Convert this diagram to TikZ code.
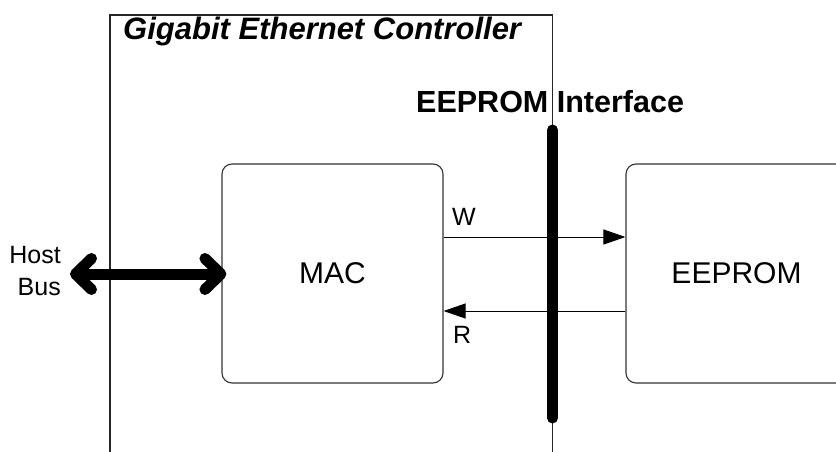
\documentclass[tikz,border=0pt]{standalone}
\usepackage{fontspec}
\setmainfont{Liberation Sans}
\usetikzlibrary{arrows.meta}
\begin{document}
\begin{tikzpicture}[x=1pt,y=-1pt,
  frame/.style={line width=1.2pt,draw=black!85},
  block/.style={draw=black!80,line width=1.1pt,rounded corners=10pt,minimum width=221pt,minimum height=219pt,inner sep=0pt,font=\fontsize{30}{32}\selectfont},
  sig/.style={line width=1pt,-{Triangle[length=22pt,width=15pt]}},
  bus/.style={line width=11pt,{Straight Barb[length=16pt,width=31pt,round]}-{Straight Barb[length=16pt,width=31pt,round]}},
  lbl/.style={inner sep=0pt,font=\fontsize{25}{32}\selectfont},
  heading/.style={inner sep=0pt,font=\fontsize{30.5}{32}\selectfont\bfseries}]
\useasboundingbox (0,0) rectangle (836,452);
\clip (0,0) rectangle (836,452);
\fill[white] (0,0) rectangle (836,452);
% controller frame
\coordinate (fbl) at (110,452);
\coordinate (ftl) at (110,15);
\coordinate (ftr) at (552.5,15);
\coordinate (fbr) at (552.5,452);
\draw[frame] (fbl) -- (ftl) -- (ftr) -- (fbr);
\node[heading,font=\fontsize{31}{32}\selectfont\bfseries\itshape,anchor=base west] (title) at (123,40) {Gigabit Ethernet Controller};
\node[heading,anchor=base west] (ifc) at (416,113) {EEPROM Interface};
% interface bar
\coordinate (bartop) at (552.5,130);
\coordinate (barbot) at (552.5,418);
\draw[line width=11pt,line cap=round] (bartop) -- (barbot);
% blocks
\node[block] (mac) at (332.5,273.5) {MAC};
\node[block] (eep) at (736.5,273.5) {EEPROM};
% signals
\coordinate (wy) at (0,237);
\coordinate (ry) at (0,311);
\draw[sig] (mac.east |- wy) -- (eep.west |- wy);
\draw[sig] (eep.west |- ry) -- (mac.east |- ry);
\node[lbl,anchor=base west] (w) at (452,225) {W};
\node[lbl,anchor=base west] (r) at (453,343) {R};
% host bus
\coordinate (hb) at (70,274);
\draw[bus,shorten >=-5pt] (hb) -- (mac.west |- hb);
\node[lbl,align=right,anchor=east] (host) at (61,271) {Host\\Bus};
\end{tikzpicture}
\end{document}
